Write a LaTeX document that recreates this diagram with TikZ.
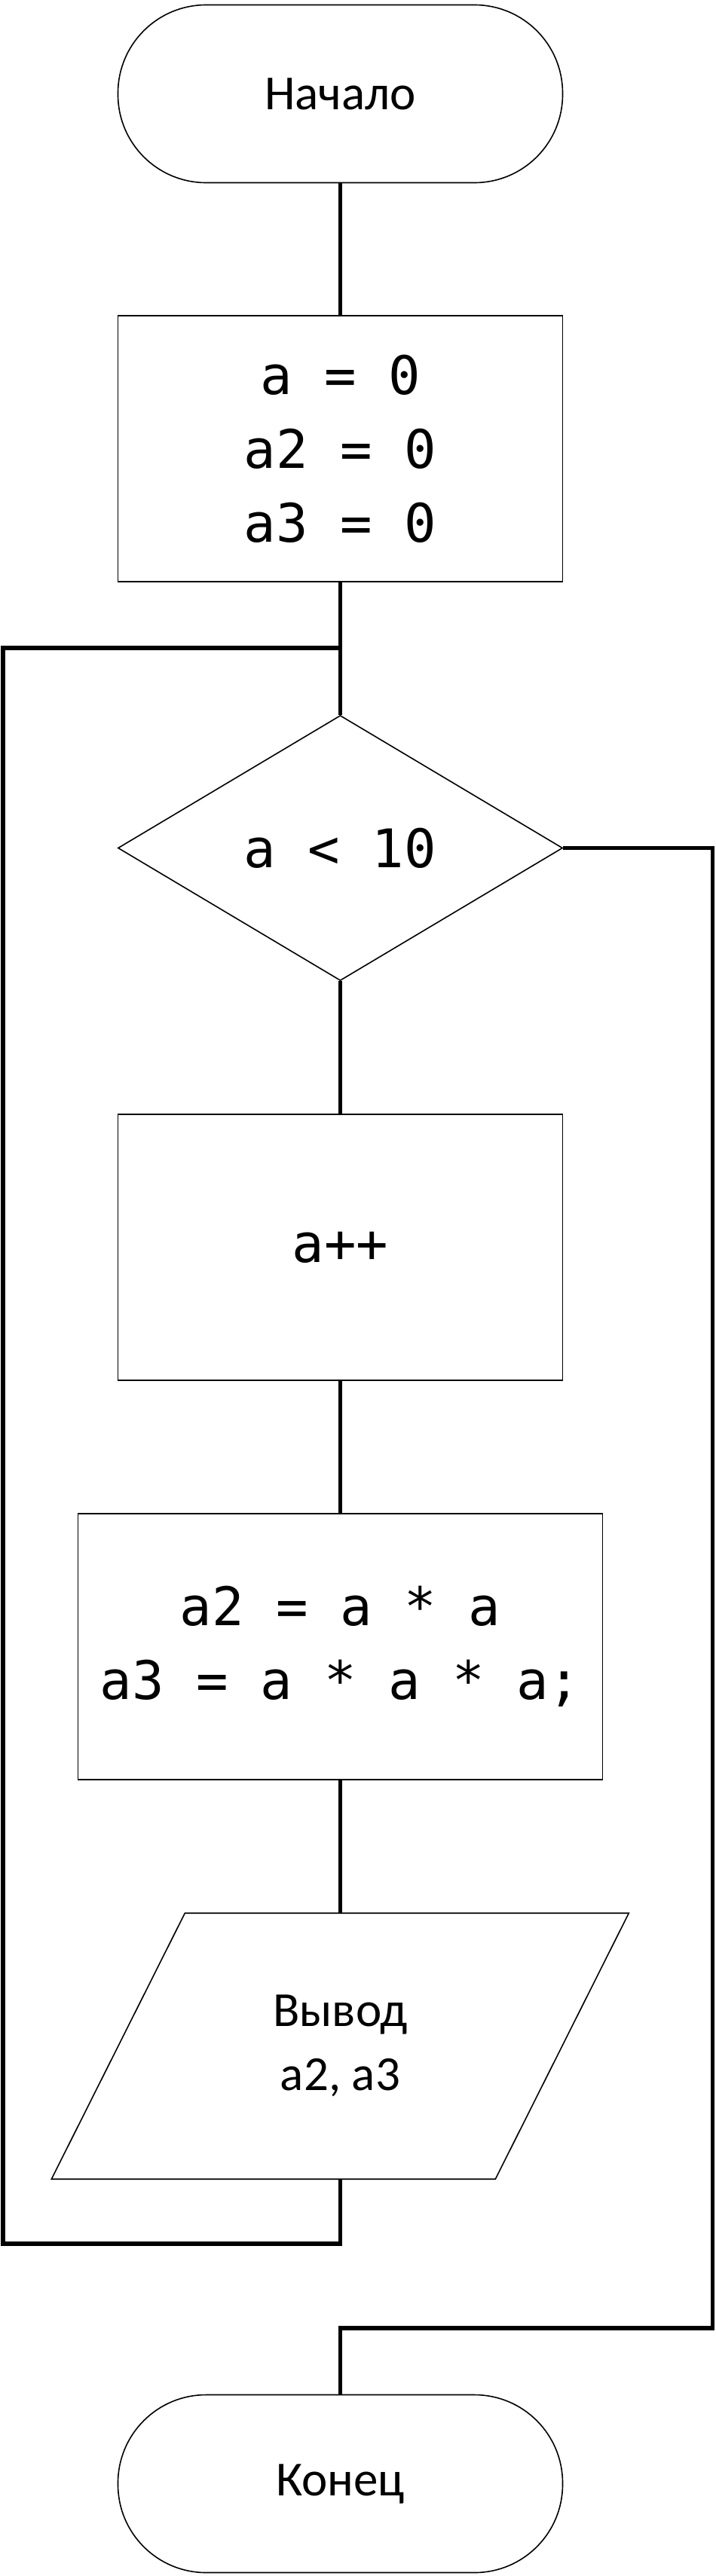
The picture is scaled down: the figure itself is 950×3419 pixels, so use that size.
\documentclass[tikz,border=0pt]{standalone}
\usepackage{fontspec}
\setmainfont{Carlito}
\newfontfamily\codefont{DejaVu Sans Mono}
\usetikzlibrary{positioning,shapes.geometric}
\tikzstyle{term} = [rectangle, draw, line width=1.6pt, rounded corners=117pt,
    minimum width=590pt, minimum height=236pt, font=\fontsize{65}{85}\selectfont]
\tikzstyle{proc} = [rectangle, draw, line width=1.6pt, align=center,
    minimum width=590pt, minimum height=353pt, font=\codefont\fontsize{70.6}{98}\selectfont]
\tikzstyle{decide} = [diamond, draw, line width=1.6pt, inner sep=0pt,
    minimum width=590pt, minimum height=352pt, font=\codefont\fontsize{70.6}{98}\selectfont]
\tikzstyle{io} = [rectangle, align=center, inner sep=0pt,
    minimum width=589pt, minimum height=353pt, font=\fontsize{65}{85}\selectfont]
\tikzstyle{link} = [line width=5.5pt]
\begin{document}
\begin{tikzpicture}[x=1pt,y=1pt,node distance=530pt]
  \useasboundingbox (0,0) rectangle (950,-3419);
  \node[term]   (start) at (451.5,-124.5)              {Начало};
  \node[proc]   (init)  [node distance=471pt,below of=start] {a = 0\\a2 = 0\\a3 = 0};
  \node[decide] (cond)  [below of=init]                {a < 10};
  \node[proc]   (inc)   [below of=cond]                {a++};
  \node[proc,minimum width=696pt] (calc) [below of=inc] {a2 = a * a\\a3 = a * a * a;};
  \node[io]     (out)   [below of=calc]                {Вывод\\a2, a3};
  \node[term]   (stop)  [node distance=581pt,below of=out] {Конец};
  \draw[line width=1.6pt] (out.south west) ++(-88.5,0) -- ++(589,0) -- ++(177,353)
    -- ++(-589,0) -- cycle;

  \coordinate (join) at (451.5,-860);
  \coordinate (back) at (4,-2978);
  \coordinate (exit) at (945.5,-3090);

  \draw[link] (start) -- (init);
  \draw[link] (init) -- (cond);
  \draw[link] (cond) -- (inc);
  \draw[link] (inc) -- (calc);
  \draw[link] (calc) -- (out);
  \draw[link] (out.south) |- (back) |- (join);
  \draw[link] (cond.east) -| (exit) -| (stop);
\end{tikzpicture}
\end{document}
